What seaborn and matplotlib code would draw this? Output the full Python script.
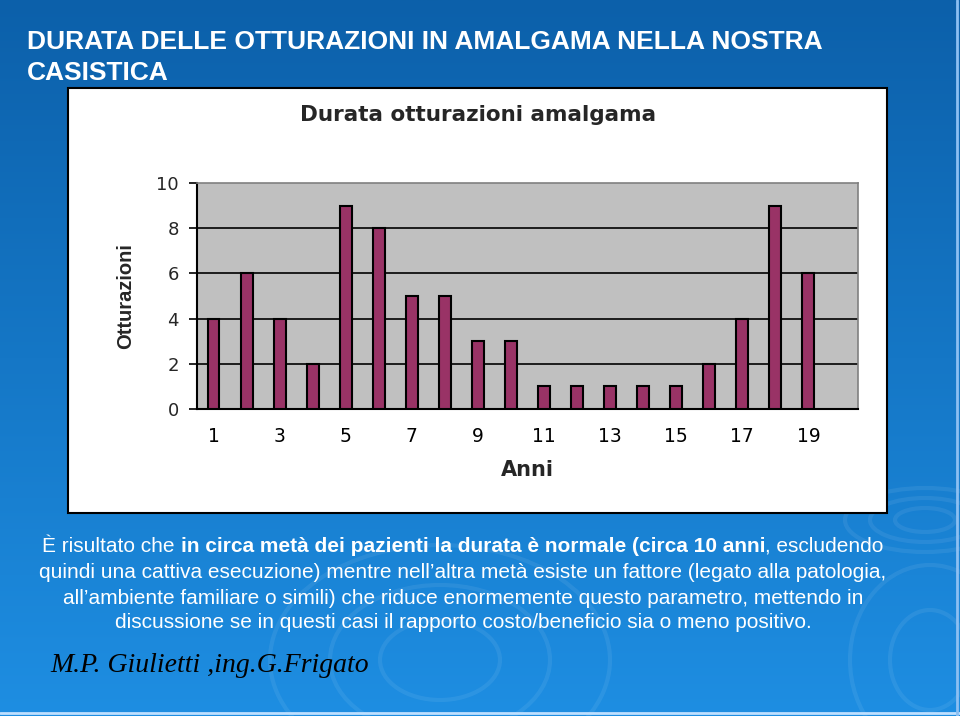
import numpy as np
import pandas as pd
import matplotlib
matplotlib.use("Agg")
import matplotlib.pyplot as plt
import matplotlib.patches as mpatches
import seaborn as sns

# ---------------- data ----------------
anni = [str(i) for i in range(1, 21)]          # 20 category slots (20th empty)
anni_dati = [str(i) for i in range(1, 20)]
otturazioni = [4, 6, 4, 2, 9, 8, 5, 5, 3, 3, 1, 1, 1, 1, 1, 2, 4, 9, 6]
tick_labels = ["1", "3", "5", "7", "9", "11", "13", "15", "17", "19"]
y_ticks = [0, 2, 4, 6, 8, 10]

slide_title = ["DURATA DELLE OTTURAZIONI IN AMALGAMA NELLA NOSTRA", "CASISTICA"]
chart_title = "Durata otturazioni amalgama"
body_lines = [
    [("È risultato che ", "normal"),
     ("in circa metà dei pazienti la durata è normale (circa 10 anni", "bold"),
     (", escludendo", "normal")],
    [("quindi una cattiva esecuzione) mentre nell’altra metà esiste un fattore (legato alla patologia,", "normal")],
    [("all’ambiente familiare o simili) che riduce enormemente questo parametro, mettendo in", "normal")],
    [("discussione se in questi casi il rapporto costo/beneficio sia o meno positivo.", "normal")],
]
signature = "M.P. Giulietti ,ing.G.Frigato"

df = pd.DataFrame({"Anni": anni_dati, "Otturazioni": otturazioni})

sns.set_theme(style="white")
plt.rcParams["font.family"] = ["Liberation Sans", "DejaVu Sans"]

W, H = 960, 716
fig = plt.figure(figsize=(W / 100, H / 100), dpi=100)

# ---------------- background ----------------
bg = fig.add_axes([0, 0, 1, 1], zorder=-10)
top = np.array([12, 96, 170]) / 255
bot = np.array([30, 142, 226]) / 255
t = np.linspace(0, 1, 300)[:, None, None]
grad = top * (1 - t) + bot * t
grad = np.repeat(grad, 2, axis=1)
bg.imshow(grad, aspect="auto", extent=[0, W, H, 0])
# faint ripples
for (cx, cy, rx, ry) in [(925, 520, 30, 12), (925, 520, 55, 22), (925, 520, 80, 32),
                         (440, 660, 60, 40), (440, 660, 110, 75), (440, 660, 170, 115),
                         (930, 660, 40, 50), (930, 660, 80, 95)]:
    bg.add_patch(mpatches.Ellipse((cx, cy), 2 * rx, 2 * ry, fill=False,
                                  edgecolor=(1, 1, 1, 0.07), lw=3))
bg.plot([0, W], [H - 3, H - 3], color=(0.75, 0.88, 1.0), lw=2)
bg.plot([W - 3, W - 3], [0, H], color=(0.55, 0.75, 0.95), lw=2)
bg.set_xlim(0, W)
bg.set_ylim(H, 0)
bg.axis("off")

# white chart box
fig.patches.append(mpatches.Rectangle((68 / W, 1 - 513 / H), (887 - 68) / W, (513 - 88) / H,
                                      transform=fig.transFigure, facecolor="white",
                                      edgecolor="black", lw=1.5, zorder=-5))

# ---------------- chart ----------------
x0, x1, yb, yt = 197, 858, 409, 183
ax = fig.add_axes([x0 / W, 1 - yb / H, (x1 - x0) / W, (yb - yt) / H])
ax.set_facecolor("#c0c0c0")
sns.barplot(data=df, x="Anni", y="Otturazioni", order=anni, color="#993366",
            width=0.36, edgecolor="black", linewidth=1.5, saturation=1, ax=ax, zorder=3)
ax.set_ylim(0, 10)
ax.set_xlim(-0.5, len(anni) - 0.5)
ax.set_yticks(y_ticks)
ax.set_yticklabels([str(v) for v in y_ticks], family="DejaVu Sans", fontsize=13)
for v in y_ticks[1:-1]:
    ax.axhline(v, color="black", lw=1.2, zorder=1)
ax.set_xticks([anni.index(l) for l in tick_labels])
ax.set_xticklabels(tick_labels, family="DejaVu Sans", fontsize=13.5)
ax.set_xticks(np.arange(-0.5, len(anni), 1.0), minor=True)
ax.tick_params(axis="x", which="major", length=0, pad=13, colors="black")
ax.tick_params(axis="x", which="minor", length=5, width=1.2, direction="out", color="black")
ax.tick_params(axis="y", length=6, width=1.2, direction="out", color="black", pad=7, left=True)
for s in ["left", "bottom"]:
    ax.spines[s].set_color("black")
    ax.spines[s].set_linewidth(1.5)
for s in ["top", "right"]:
    ax.spines[s].set_color("#808080")
    ax.spines[s].set_linewidth(1.2)
ax.set_xlabel("Anni", family="DejaVu Sans", fontweight="bold", fontsize=15)
ax.xaxis.set_label_coords((527 - x0) / (x1 - x0), (yb - 470) / (yb - yt))
ax.set_ylabel("Otturazioni", family="Liberation Sans", fontweight="bold", fontsize=14.5)
ax.yaxis.set_label_coords((126 - x0) / (x1 - x0), (yb - 296) / (yb - yt))
ax.xaxis.label.set_va("center")
ax.yaxis.label.set_va("center")
ax.set_title(chart_title, family="DejaVu Sans", fontweight="bold", fontsize=15.5,
             x=(478 - x0) / (x1 - x0), y=(yb - 123) / (yb - yt), va="center")

# ---------------- slide texts ----------------
fig.text(27 / W, 1 - 42 / H, slide_title[0], color="white", fontweight="bold",
         fontsize=19, va="center", ha="left")
fig.text(27 / W, 1 - 73 / H, slide_title[1], color="white", fontweight="bold",
         fontsize=19, va="center", ha="left")

renderer = fig.canvas.get_renderer()
line_y = [546, 572, 598, 622]
cx = 463
for segs, ly in zip(body_lines, line_y):
    texts = []
    for s, w in segs:
        texts.append(fig.text(0, 1 - ly / H, s, color="white", fontweight=w,
                              fontsize=15, va="center", ha="left"))
    widths = [tx.get_window_extent(renderer).width for tx in texts]
    total = sum(widths)
    xs = cx - total / 2
    for tx, wd in zip(texts, widths):
        tx.set_x(xs / W)
        xs += wd

fig.text(50 / W, 1 - 665 / H, signature, color="black", fontsize=20, style="italic",
         family=["Liberation Serif", "DejaVu Serif"], va="center", ha="left")

fig.savefig("out.png", dpi=100)
